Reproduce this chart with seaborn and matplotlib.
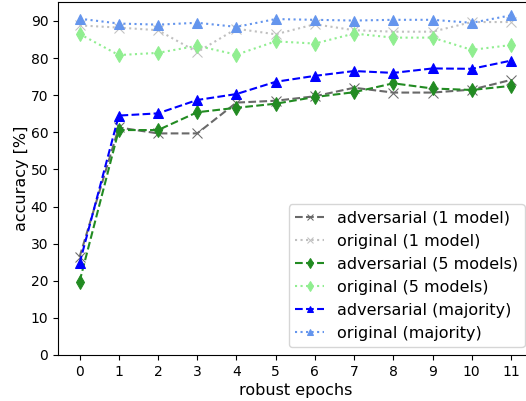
import matplotlib
matplotlib.use("Agg")
import matplotlib.pyplot as plt
import seaborn as sns
import numpy as np

epochs = list(range(12))
adv_1model = [26.4, 61.3, 59.7, 59.7, 68.0, 68.5, 69.7, 72.0, 70.7, 70.7, 71.5, 74.1]
orig_1model = [88.8, 88.2, 87.5, 81.6, 87.9, 86.4, 89.1, 87.5, 87.1, 87.1, 89.7, 89.7]
adv_5models = [19.8, 60.6, 60.6, 65.4, 66.6, 67.7, 69.5, 70.8, 73.2, 71.8, 71.4, 72.5]
orig_5models = [86.5, 80.8, 81.4, 83.3, 80.9, 84.5, 83.9, 86.6, 85.5, 85.5, 82.2, 83.5]
adv_majority = [24.7, 64.5, 65.1, 68.7, 70.3, 73.6, 75.2, 76.5, 76.0, 77.2, 77.1, 79.3]
orig_majority = [90.6, 89.3, 89.0, 89.5, 88.4, 90.5, 90.3, 90.1, 90.3, 90.3, 89.5, 91.5]

labels = ["adversarial (1 model)", "original (1 model)",
          "adversarial (5 models)", "original (5 models)",
          "adversarial (majority)", "original (majority)"]
series = [adv_1model, orig_1model, adv_5models, orig_5models, adv_majority, orig_majority]
colors = ["dimgray", "silver", "forestgreen", "lightgreen", "blue", "cornflowerblue"]
markers = ["x", "x", "d", "d", "^", "^"]
styles = ["--", ":", "--", ":", "--", ":"]

fig = plt.figure(figsize=(5.26, 4.01), dpi=100)
ax = fig.add_axes([58/526, 46/401, (532.5-58)/526, (399-46)/401])

for vals, lab, c, m, ls in zip(series, labels, colors, markers, styles):
    sns.lineplot(x=epochs, y=vals, ax=ax, label=lab, color=c, marker=m,
                 linestyle=ls, markersize=7, markeredgecolor=c, linewidth=1.5)

ax.set_xlim(-0.55, 11.55)
ax.set_ylim(0, 95.1)
ax.set_xticks(epochs)
ax.set_yticks(range(0, 91, 10))
ax.tick_params(labelsize=10)
ax.set_xlabel("robust epochs", fontsize=11.5, labelpad=3)
ax.set_ylabel("accuracy [%]", fontsize=11.5, labelpad=1)
ax.legend(loc="lower right", fontsize=11.5, markerscale=0.68, handlelength=1.8)
fig.savefig("out.png", dpi=100)
